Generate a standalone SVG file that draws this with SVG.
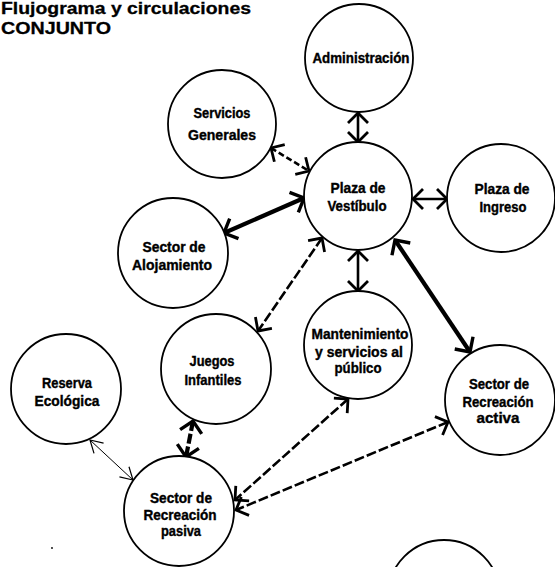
<svg xmlns="http://www.w3.org/2000/svg" width="555" height="567" viewBox="0 0 555 567">
<style>
  .bg { fill: #ffffff; }
  .node circle { fill: #ffffff; stroke: #000; stroke-width: 1.8; }
  .lbl { font-family: "Liberation Sans", Arial, sans-serif; font-weight: bold; font-size: 15px; fill: #000; stroke: #000; stroke-width: 0.4; text-anchor: middle; }
  .title { font-family: "Liberation Sans", Arial, sans-serif; font-weight: bold; font-size: 17px; fill: #000; stroke: #000; stroke-width: 0.3; }
  .c { fill: none; stroke: #000; stroke-linecap: butt; }
  .thin { stroke-width: 1; marker-start: url(#ahThin); marker-end: url(#ahThin); }
  .med { stroke-width: 2.6; marker-start: url(#ahMed); marker-end: url(#ahMed); }
  .thick { stroke-width: 4.2; marker-start: url(#ahThick); marker-end: url(#ahThick); }
  .dash { stroke-dasharray: 10 3; }
  .dashS { stroke-dasharray: 6 3; }
</style>
<defs>
  <marker id="ahThin" viewBox="0 0 14 16" refX="13" refY="8" markerWidth="14" markerHeight="16" markerUnits="userSpaceOnUse" orient="auto-start-reverse">
    <path d="M1,1 L13,8 L1,15" fill="none" stroke="#000" stroke-width="1.2"/>
  </marker>
  <marker id="ahMed" viewBox="0 0 14 24" refX="12" refY="12" markerWidth="14" markerHeight="24" markerUnits="userSpaceOnUse" orient="auto-start-reverse">
    <path d="M2,2 L12,12 L2,22" fill="none" stroke="#000" stroke-width="2.8"/>
  </marker>
  <marker id="ahThick" viewBox="0 0 16 26" refX="13" refY="13" markerWidth="16" markerHeight="26" markerUnits="userSpaceOnUse" orient="auto-start-reverse">
    <path d="M2,2 L13,13 L2,24" fill="none" stroke="#000" stroke-width="3.4"/>
  </marker>
</defs>
<rect class="bg" x="0" y="0" width="555" height="567"/>

<g id="title">
  <text class="title" x="1" y="14" textLength="250" lengthAdjust="spacingAndGlyphs">Flujograma y circulaciones</text>
  <text class="title" x="1" y="34" textLength="110" lengthAdjust="spacingAndGlyphs">CONJUNTO</text>
</g>

<g id="connectors">
  <line class="c med" x1="358" y1="113" x2="358" y2="142"/>
  <line class="c med dashS" x1="271" y1="148" x2="309" y2="171"/>
  <line class="c thick" x1="224" y1="233" x2="304" y2="198"/>
  <line class="c med" x1="413" y1="199" x2="447" y2="199"/>
  <line class="c med" x1="358" y1="251" x2="358" y2="291"/>
  <line class="c med dash" x1="322" y1="238" x2="258" y2="331"/>
  <line class="c thick" x1="395" y1="240" x2="470" y2="352"/>
  <line class="c thick dash" x1="193" y1="421" x2="186" y2="457"/>
  <line class="c thin" x1="90" y1="440" x2="133" y2="480"/>
  <line class="c med dash" x1="348" y1="399" x2="235" y2="500"/>
  <line class="c med dash" x1="448" y1="422" x2="236" y2="510"/>
</g>

<g id="n-administracion" class="node">
  <circle cx="359" cy="58" r="54"/>
  <text class="lbl" x="361" y="63" textLength="97" lengthAdjust="spacingAndGlyphs">Administración</text>
</g>
<g id="n-servicios" class="node">
  <circle cx="222" cy="124" r="54"/>
  <text class="lbl" x="222" y="118" textLength="57" lengthAdjust="spacingAndGlyphs">Servicios</text>
  <text class="lbl" x="222" y="140" textLength="68" lengthAdjust="spacingAndGlyphs">Generales</text>
</g>
<g id="n-vestibulo" class="node">
  <circle cx="358" cy="196" r="54"/>
  <text class="lbl" x="358" y="193" textLength="55" lengthAdjust="spacingAndGlyphs">Plaza de</text>
  <text class="lbl" x="357" y="211" textLength="59" lengthAdjust="spacingAndGlyphs">Vestíbulo</text>
</g>
<g id="n-ingreso" class="node">
  <circle cx="501" cy="198" r="54"/>
  <text class="lbl" x="502" y="194" textLength="55" lengthAdjust="spacingAndGlyphs">Plaza de</text>
  <text class="lbl" x="503" y="212" textLength="47" lengthAdjust="spacingAndGlyphs">Ingreso</text>
</g>
<g id="n-alojamiento" class="node">
  <circle cx="173" cy="253" r="55"/>
  <text class="lbl" x="174" y="252" textLength="63" lengthAdjust="spacingAndGlyphs">Sector de</text>
  <text class="lbl" x="172" y="270" textLength="80" lengthAdjust="spacingAndGlyphs">Alojamiento</text>
</g>
<g id="n-juegos" class="node">
  <circle cx="216" cy="369" r="55"/>
  <text class="lbl" x="212" y="366" textLength="45" lengthAdjust="spacingAndGlyphs">Juegos</text>
  <text class="lbl" x="213" y="385" textLength="57" lengthAdjust="spacingAndGlyphs">Infantiles</text>
</g>
<g id="n-mantenimiento" class="node">
  <circle cx="358" cy="345" r="54"/>
  <text class="lbl" x="360" y="339" textLength="97" lengthAdjust="spacingAndGlyphs">Mantenimiento</text>
  <text class="lbl" x="359" y="357" textLength="88" lengthAdjust="spacingAndGlyphs">y servicios al</text>
  <text class="lbl" x="358" y="373" textLength="47" lengthAdjust="spacingAndGlyphs">público</text>
</g>
<g id="n-recreacion-activa" class="node">
  <circle cx="500" cy="400" r="55"/>
  <text class="lbl" x="499" y="389" textLength="60" lengthAdjust="spacingAndGlyphs">Sector de</text>
  <text class="lbl" x="498" y="407" textLength="71" lengthAdjust="spacingAndGlyphs">Recreación</text>
  <text class="lbl" x="498" y="423" textLength="43" lengthAdjust="spacingAndGlyphs">activa</text>
</g>
<g id="n-reserva" class="node">
  <circle cx="66" cy="389" r="55"/>
  <text class="lbl" x="67" y="388" textLength="50" lengthAdjust="spacingAndGlyphs">Reserva</text>
  <text class="lbl" x="67" y="406" textLength="65" lengthAdjust="spacingAndGlyphs">Ecológica</text>
</g>
<g id="n-recreacion-pasiva" class="node">
  <circle cx="179" cy="511" r="55"/>
  <text class="lbl" x="181" y="503" textLength="62" lengthAdjust="spacingAndGlyphs">Sector de</text>
  <text class="lbl" x="180" y="520" textLength="73" lengthAdjust="spacingAndGlyphs">Recreación</text>
  <text class="lbl" x="181" y="536" textLength="40" lengthAdjust="spacingAndGlyphs">pasiva</text>
</g>
<g id="n-partial" class="node">
  <circle cx="444" cy="596" r="56"/>
</g>
<circle cx="52" cy="548" r="0.9" fill="#000"/>
</svg>
